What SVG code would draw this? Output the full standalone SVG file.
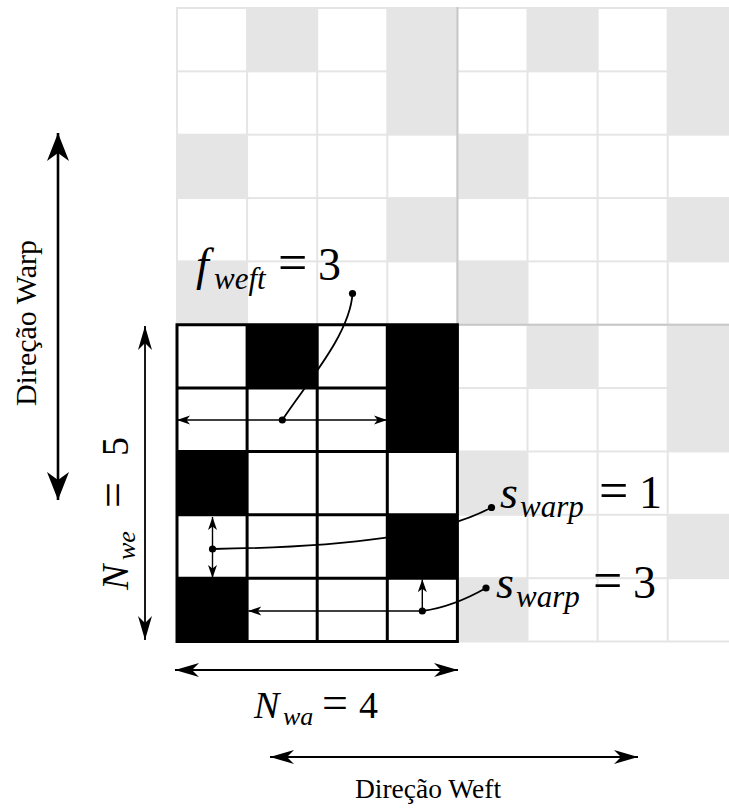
<svg xmlns="http://www.w3.org/2000/svg" width="729" height="809" viewBox="0 0 729 809">
<style>
.cw{fill:#fff}
.cb{fill:#000}
.grid{stroke:#000;stroke-width:3;fill:none}
.tile{stroke:#c8c8c8;stroke-width:2;fill:none}
.con{stroke:#000;fill:none}
.dot{fill:#000;stroke:none}
text{font-family:'Liberation Serif',serif;fill:#000}
.it{font-style:italic}
</style>
<defs>
<marker id="sm" viewBox="-14 -6 15 12" refX="0" refY="0" markerWidth="15" markerHeight="12" markerUnits="userSpaceOnUse" orient="auto-start-reverse"><path d="M0,0 L-13,-4.5 L-9.5,0 L-13,4.5 Z" fill="#000"/></marker>
<marker id="md" viewBox="-25 -8 26 16" refX="0" refY="0" markerWidth="26" markerHeight="16" markerUnits="userSpaceOnUse" orient="auto-start-reverse"><path d="M0,0 L-24,-7 L-17,0 L-24,7 Z" fill="#000"/></marker>
<marker id="lg" viewBox="-29 -12 30 24" refX="0" refY="0" markerWidth="30" markerHeight="24" markerUnits="userSpaceOnUse" orient="auto-start-reverse"><path d="M0,0 L-28,-11 L-20,0 L-28,11 Z" fill="#000"/></marker>
</defs>
<rect width="729" height="809" fill="#fff"/>
<g id="background-pattern">
<rect x="176" y="7" width="553" height="635.5" fill="#e5e5e5"/>
<g class="cw">
<rect x="178" y="9" width="68.1" height="61.35"/>
<rect x="318.2" y="9" width="68.1" height="61.35"/>
<rect x="458.4" y="9" width="68.1" height="61.35"/>
<rect x="598.6" y="9" width="68.1" height="61.35"/>
<rect x="178" y="72.35" width="68.1" height="61.35"/>
<rect x="248.1" y="72.35" width="68.1" height="61.35"/>
<rect x="318.2" y="72.35" width="68.1" height="61.35"/>
<rect x="458.4" y="72.35" width="68.1" height="61.35"/>
<rect x="528.5" y="72.35" width="68.1" height="61.35"/>
<rect x="598.6" y="72.35" width="68.1" height="61.35"/>
<rect x="248.1" y="135.7" width="68.1" height="61.35"/>
<rect x="318.2" y="135.7" width="68.1" height="61.35"/>
<rect x="388.3" y="135.7" width="68.1" height="61.35"/>
<rect x="528.5" y="135.7" width="68.1" height="61.35"/>
<rect x="598.6" y="135.7" width="68.1" height="61.35"/>
<rect x="668.7" y="135.7" width="68.1" height="61.35"/>
<rect x="178" y="199.05" width="68.1" height="61.35"/>
<rect x="248.1" y="199.05" width="68.1" height="61.35"/>
<rect x="318.2" y="199.05" width="68.1" height="61.35"/>
<rect x="458.4" y="199.05" width="68.1" height="61.35"/>
<rect x="528.5" y="199.05" width="68.1" height="61.35"/>
<rect x="598.6" y="199.05" width="68.1" height="61.35"/>
<rect x="248.1" y="262.4" width="68.1" height="61.35"/>
<rect x="318.2" y="262.4" width="68.1" height="61.35"/>
<rect x="388.3" y="262.4" width="68.1" height="61.35"/>
<rect x="528.5" y="262.4" width="68.1" height="61.35"/>
<rect x="598.6" y="262.4" width="68.1" height="61.35"/>
<rect x="668.7" y="262.4" width="68.1" height="61.35"/>
<rect x="458.4" y="325.75" width="68.1" height="61.35"/>
<rect x="598.6" y="325.75" width="68.1" height="61.35"/>
<rect x="458.4" y="389.1" width="68.1" height="61.35"/>
<rect x="528.5" y="389.1" width="68.1" height="61.35"/>
<rect x="598.6" y="389.1" width="68.1" height="61.35"/>
<rect x="528.5" y="452.45" width="68.1" height="61.35"/>
<rect x="598.6" y="452.45" width="68.1" height="61.35"/>
<rect x="668.7" y="452.45" width="68.1" height="61.35"/>
<rect x="458.4" y="515.8" width="68.1" height="61.35"/>
<rect x="528.5" y="515.8" width="68.1" height="61.35"/>
<rect x="598.6" y="515.8" width="68.1" height="61.35"/>
<rect x="528.5" y="579.15" width="68.1" height="61.35"/>
<rect x="598.6" y="579.15" width="68.1" height="61.35"/>
<rect x="668.7" y="579.15" width="68.1" height="61.35"/>
</g>
<path class="tile" d="M457.4,7 V324.75 H729"/>
</g>
<g id="weave-unit">
<rect class="cw" x="177" y="324.75" width="280.4" height="316.75"/>
<g class="cb">
<rect x="247.1" y="324.75" width="70.1" height="63.35"/>
<rect x="387.3" y="324.75" width="70.1" height="126.7"/>
<rect x="177" y="451.45" width="70.1" height="63.35"/>
<rect x="387.3" y="514.8" width="70.1" height="63.35"/>
<rect x="177" y="578.15" width="70.1" height="63.35"/>
</g>
<path class="grid" d="M177,324.75 V641.5 M247.1,324.75 V641.5 M317.2,324.75 V641.5 M387.3,324.75 V641.5 M457.4,324.75 V641.5 M175.5,324.75 H458.9 M175.5,388.1 H458.9 M175.5,451.45 H458.9 M175.5,514.8 H458.9 M175.5,578.15 H458.9 M175.5,641.5 H458.9"/>
</g>
<g id="connectors">
<line class="con" x1="58" y1="133" x2="58" y2="500" stroke-width="2.6" marker-start="url(#lg)" marker-end="url(#lg)"/>
<line class="con" x1="145" y1="326" x2="145" y2="640" stroke-width="1.8" marker-start="url(#md)" marker-end="url(#md)"/>
<line class="con" x1="175" y1="670" x2="458" y2="670" stroke-width="1.8" marker-start="url(#md)" marker-end="url(#md)"/>
<line class="con" x1="270" y1="757" x2="638" y2="757" stroke-width="1.8" marker-start="url(#md)" marker-end="url(#md)"/>
<line class="con" x1="177" y1="420" x2="387" y2="420" stroke-width="1.4" marker-start="url(#sm)" marker-end="url(#sm)"/>
<path class="con" d="M352.5,293.5 C350,335 305,385 282.3,420" stroke-width="1.8"/>
<line class="con" x1="212.5" y1="517" x2="212.5" y2="578" stroke-width="1.4" marker-start="url(#sm)" marker-end="url(#sm)"/>
<path class="con" d="M212.5,549 C350,547 440,535 491.5,507.5" stroke-width="1.8"/>
<line class="con" x1="422.3" y1="611" x2="248.3" y2="611" stroke-width="1.4" marker-end="url(#sm)"/>
<line class="con" x1="422.3" y1="611" x2="422.3" y2="579.3" stroke-width="1.4" marker-end="url(#sm)"/>
<path class="con" d="M422.3,611 C445,608 465,600 486,588" stroke-width="1.8"/>
<circle class="dot" cx="352.5" cy="293.5" r="3.6"/>
<circle class="dot" cx="282.3" cy="420" r="3.6"/>
<circle class="dot" cx="212.5" cy="549" r="3.6"/>
<circle class="dot" cx="491.5" cy="507.5" r="3.6"/>
<circle class="dot" cx="422.3" cy="611" r="3.6"/>
<circle class="dot" cx="486" cy="588" r="3.6"/>
</g>
<g id="label-fweft">
<text class="it" x="196" y="280" font-size="46">f</text>
<text class="it" x="214" y="289" font-size="31">weft</text>
<text x="278" y="280" font-size="52">=</text>
<text x="318" y="280" font-size="46">3</text>
</g>
<g id="label-swarp1">
<text class="it" x="500" y="508" font-size="46">s</text>
<text class="it" x="520" y="517" font-size="31">warp</text>
<text x="599" y="508" font-size="52">=</text>
<text x="639" y="508" font-size="46">1</text>
</g>
<g id="label-swarp3">
<text class="it" x="496" y="598" font-size="46">s</text>
<text class="it" x="516" y="607" font-size="31">warp</text>
<text x="593" y="598" font-size="52">=</text>
<text x="633" y="598" font-size="46">3</text>
</g>
<g id="label-nwa">
<text class="it" x="254" y="718" font-size="38">N</text>
<text class="it" x="283" y="725" font-size="26">wa</text>
<text x="322" y="718" font-size="46">=</text>
<text x="359" y="718" font-size="38">4</text>
</g>
<g id="label-nwe" transform="translate(128,592) rotate(-90)">
<text class="it" x="2" y="0" font-size="38">N</text>
<text class="it" x="32" y="7" font-size="26">we</text>
<text x="84" y="0" font-size="46">=</text>
<text x="136" y="0" font-size="38">5</text>
</g>
<g id="label-warp">
<text transform="translate(36,323) rotate(-90)" text-anchor="middle" font-size="30">Direção Warp</text>
</g>
<g id="label-weft">
<text x="428" y="798" text-anchor="middle" font-size="27.5">Direção Weft</text>
</g>
</svg>
